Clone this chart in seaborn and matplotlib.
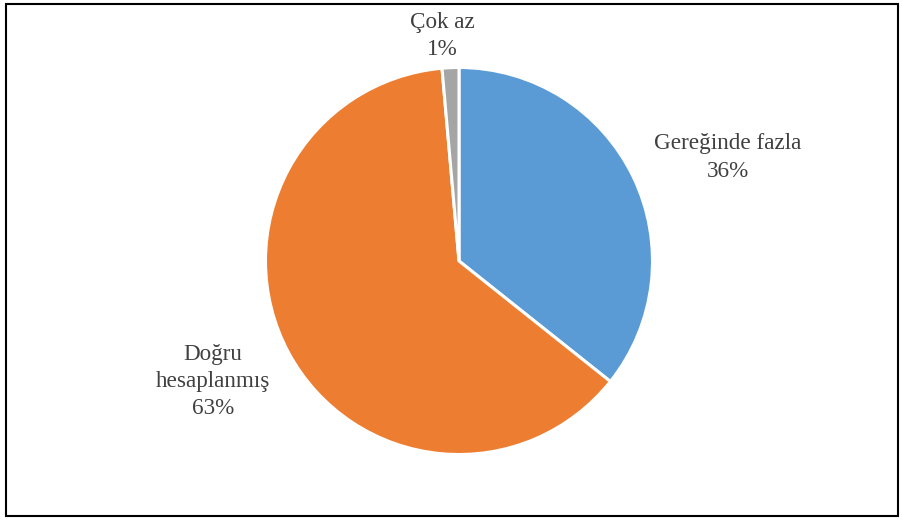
import numpy as np
import matplotlib
matplotlib.use("Agg")
import matplotlib.pyplot as plt
import seaborn as sns
from matplotlib.patches import Rectangle

sns.set_theme(style="white")
plt.rcParams['font.family'] = ['Liberation Serif', 'DejaVu Serif']

categories = ["Gereğinde fazla", "Doğru\nhesaplanmış", "Çok az"]
values = [35.7, 62.9, 1.4]
colors = ["#5B9BD5", "#ED7D31", "#A5A5A5"]
label_dist = [1.49, 1.416, 1.166]
label_shift = [-4.7, -2.1, 1.6]

fig = plt.figure(figsize=(9.02, 5.20), dpi=100)
ax = fig.add_axes([0, 0, 1, 1])

cx, cy, r = 459, 259, 193.5
wedges, _ = ax.pie(values, colors=colors, startangle=90, counterclock=False,
                   center=(cx, cy), radius=r, frame=True,
                   wedgeprops=dict(edgecolor='white', linewidth=2.2))
ax.set_xlim(0, 902)
ax.set_ylim(0, 520)
ax.set_aspect('equal')
ax.axis('off')

total = sum(values)
for w, cat, v, d, s in zip(wedges, categories, values, label_dist, label_shift):
    ang = np.deg2rad((w.theta1 + w.theta2) / 2 + s)
    x = cx + d * r * np.cos(ang)
    y = cy + d * r * np.sin(ang)
    ax.text(x, y, f"{cat}\n{round(v / total * 100):.0f}%", ha='center', va='center',
            fontsize=16.7, color='#404040', linespacing=1.38)

fig.patches.append(Rectangle((6 / 902, 4 / 520), 892 / 902, 512 / 520,
                             transform=fig.transFigure, fill=False,
                             edgecolor='black', linewidth=1.5))

fig.savefig("out.png", dpi=100)
